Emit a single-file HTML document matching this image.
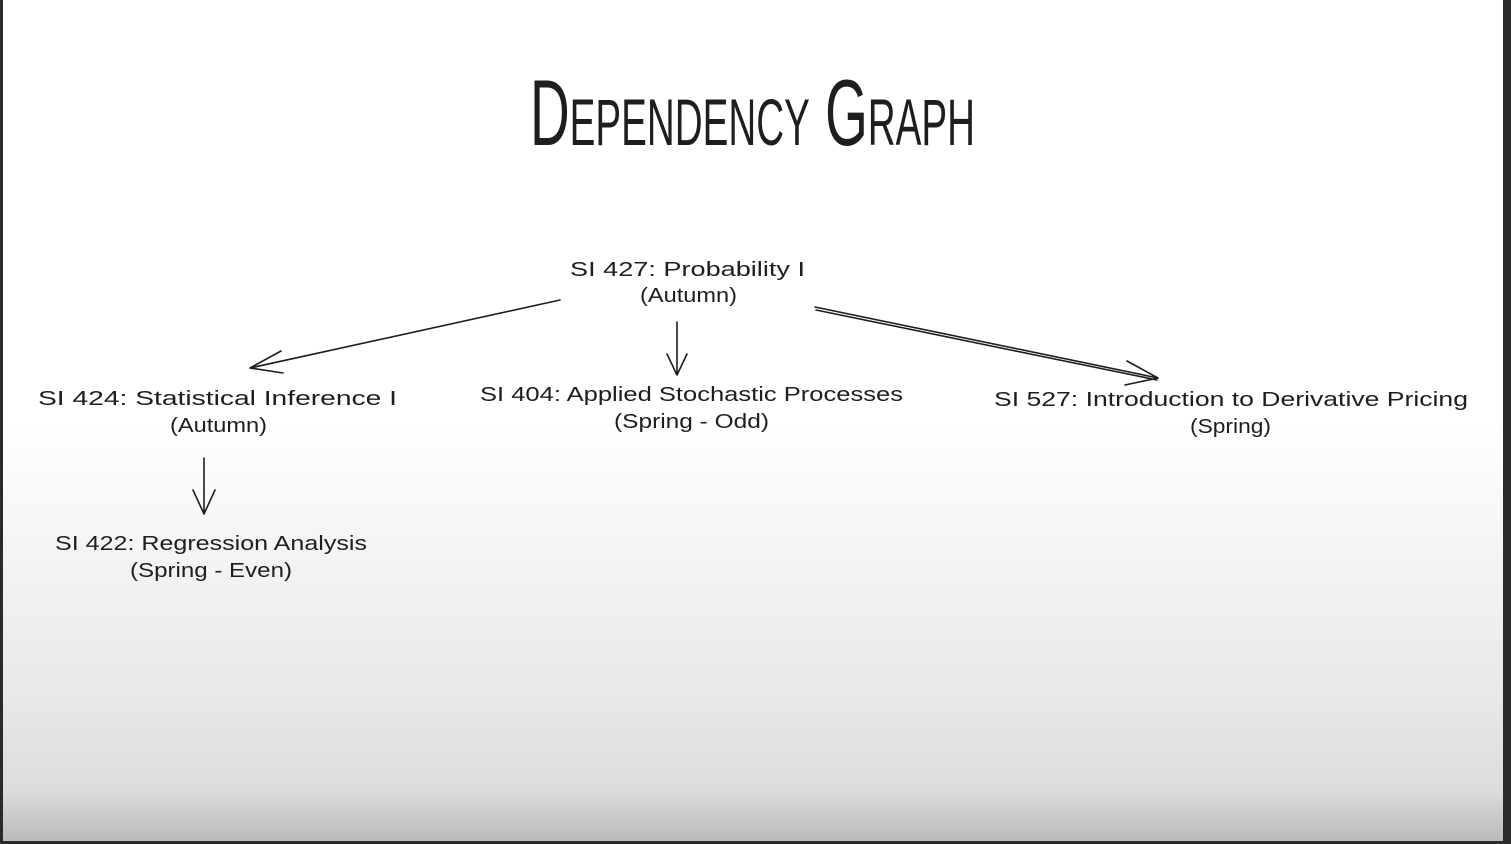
<!DOCTYPE html>
<html><head><meta charset="utf-8"><style>
html,body{margin:0;padding:0;width:1511px;height:844px;overflow:hidden;background:#2a2a2a}
#s{position:absolute;left:3px;top:0;width:1500px;height:841px;background:linear-gradient(#fff 0px,#fff 420px,#e8e8e8 700px,#dcdcdc 790px,#bcbcbc 838px)}
svg{position:absolute;left:0;top:0}
text{font-family:"Liberation Sans",sans-serif;fill:#1e1e1e}
</style></head><body>
<div id="s"></div>
<svg width="1511" height="844">
<text x="530" y="145" font-size="94" textLength="445" lengthAdjust="spacingAndGlyphs" style="font-family:'Liberation Sans Narrow','Liberation Sans',sans-serif;font-variant:small-caps" fill="#1e1e1e">Dependency Graph</text>
<g font-size="20">
<text x="570" y="276" textLength="235" lengthAdjust="spacingAndGlyphs">SI 427: Probability I</text>
<text x="640" y="302" textLength="97" lengthAdjust="spacingAndGlyphs">(Autumn)</text>
<text x="38" y="405" textLength="359" lengthAdjust="spacingAndGlyphs">SI 424: Statistical Inference I</text>
<text x="170" y="432" textLength="97" lengthAdjust="spacingAndGlyphs">(Autumn)</text>
<text x="480" y="401" textLength="423" lengthAdjust="spacingAndGlyphs">SI 404: Applied Stochastic Processes</text>
<text x="614" y="428" textLength="155" lengthAdjust="spacingAndGlyphs">(Spring - Odd)</text>
<text x="994" y="406" textLength="474" lengthAdjust="spacingAndGlyphs">SI 527: Introduction to Derivative Pricing</text>
<text x="1190" y="433" textLength="81" lengthAdjust="spacingAndGlyphs">(Spring)</text>
<text x="55" y="550" textLength="312" lengthAdjust="spacingAndGlyphs">SI 422: Regression Analysis</text>
<text x="130" y="577" textLength="162" lengthAdjust="spacingAndGlyphs">(Spring - Even)</text>
</g>
<g stroke="#1e1e1e" stroke-width="1.6" fill="none" stroke-linecap="round">
<path d="M560 300 L250 368 M250 368 L281 351 M250 368 L283 373"/>
<path d="M677 322 L677 375 M677 375 L667 354 M677 375 L687 354"/>
<path d="M815 307 L1158 378 M816 310 L1157 380 M1158 378 L1127 361 M1158 378 L1125 385"/>
<path d="M204 458 L204 514 M204 514 L193 490 M204 514 L215 490"/>
</g>
</svg>
</body></html>
